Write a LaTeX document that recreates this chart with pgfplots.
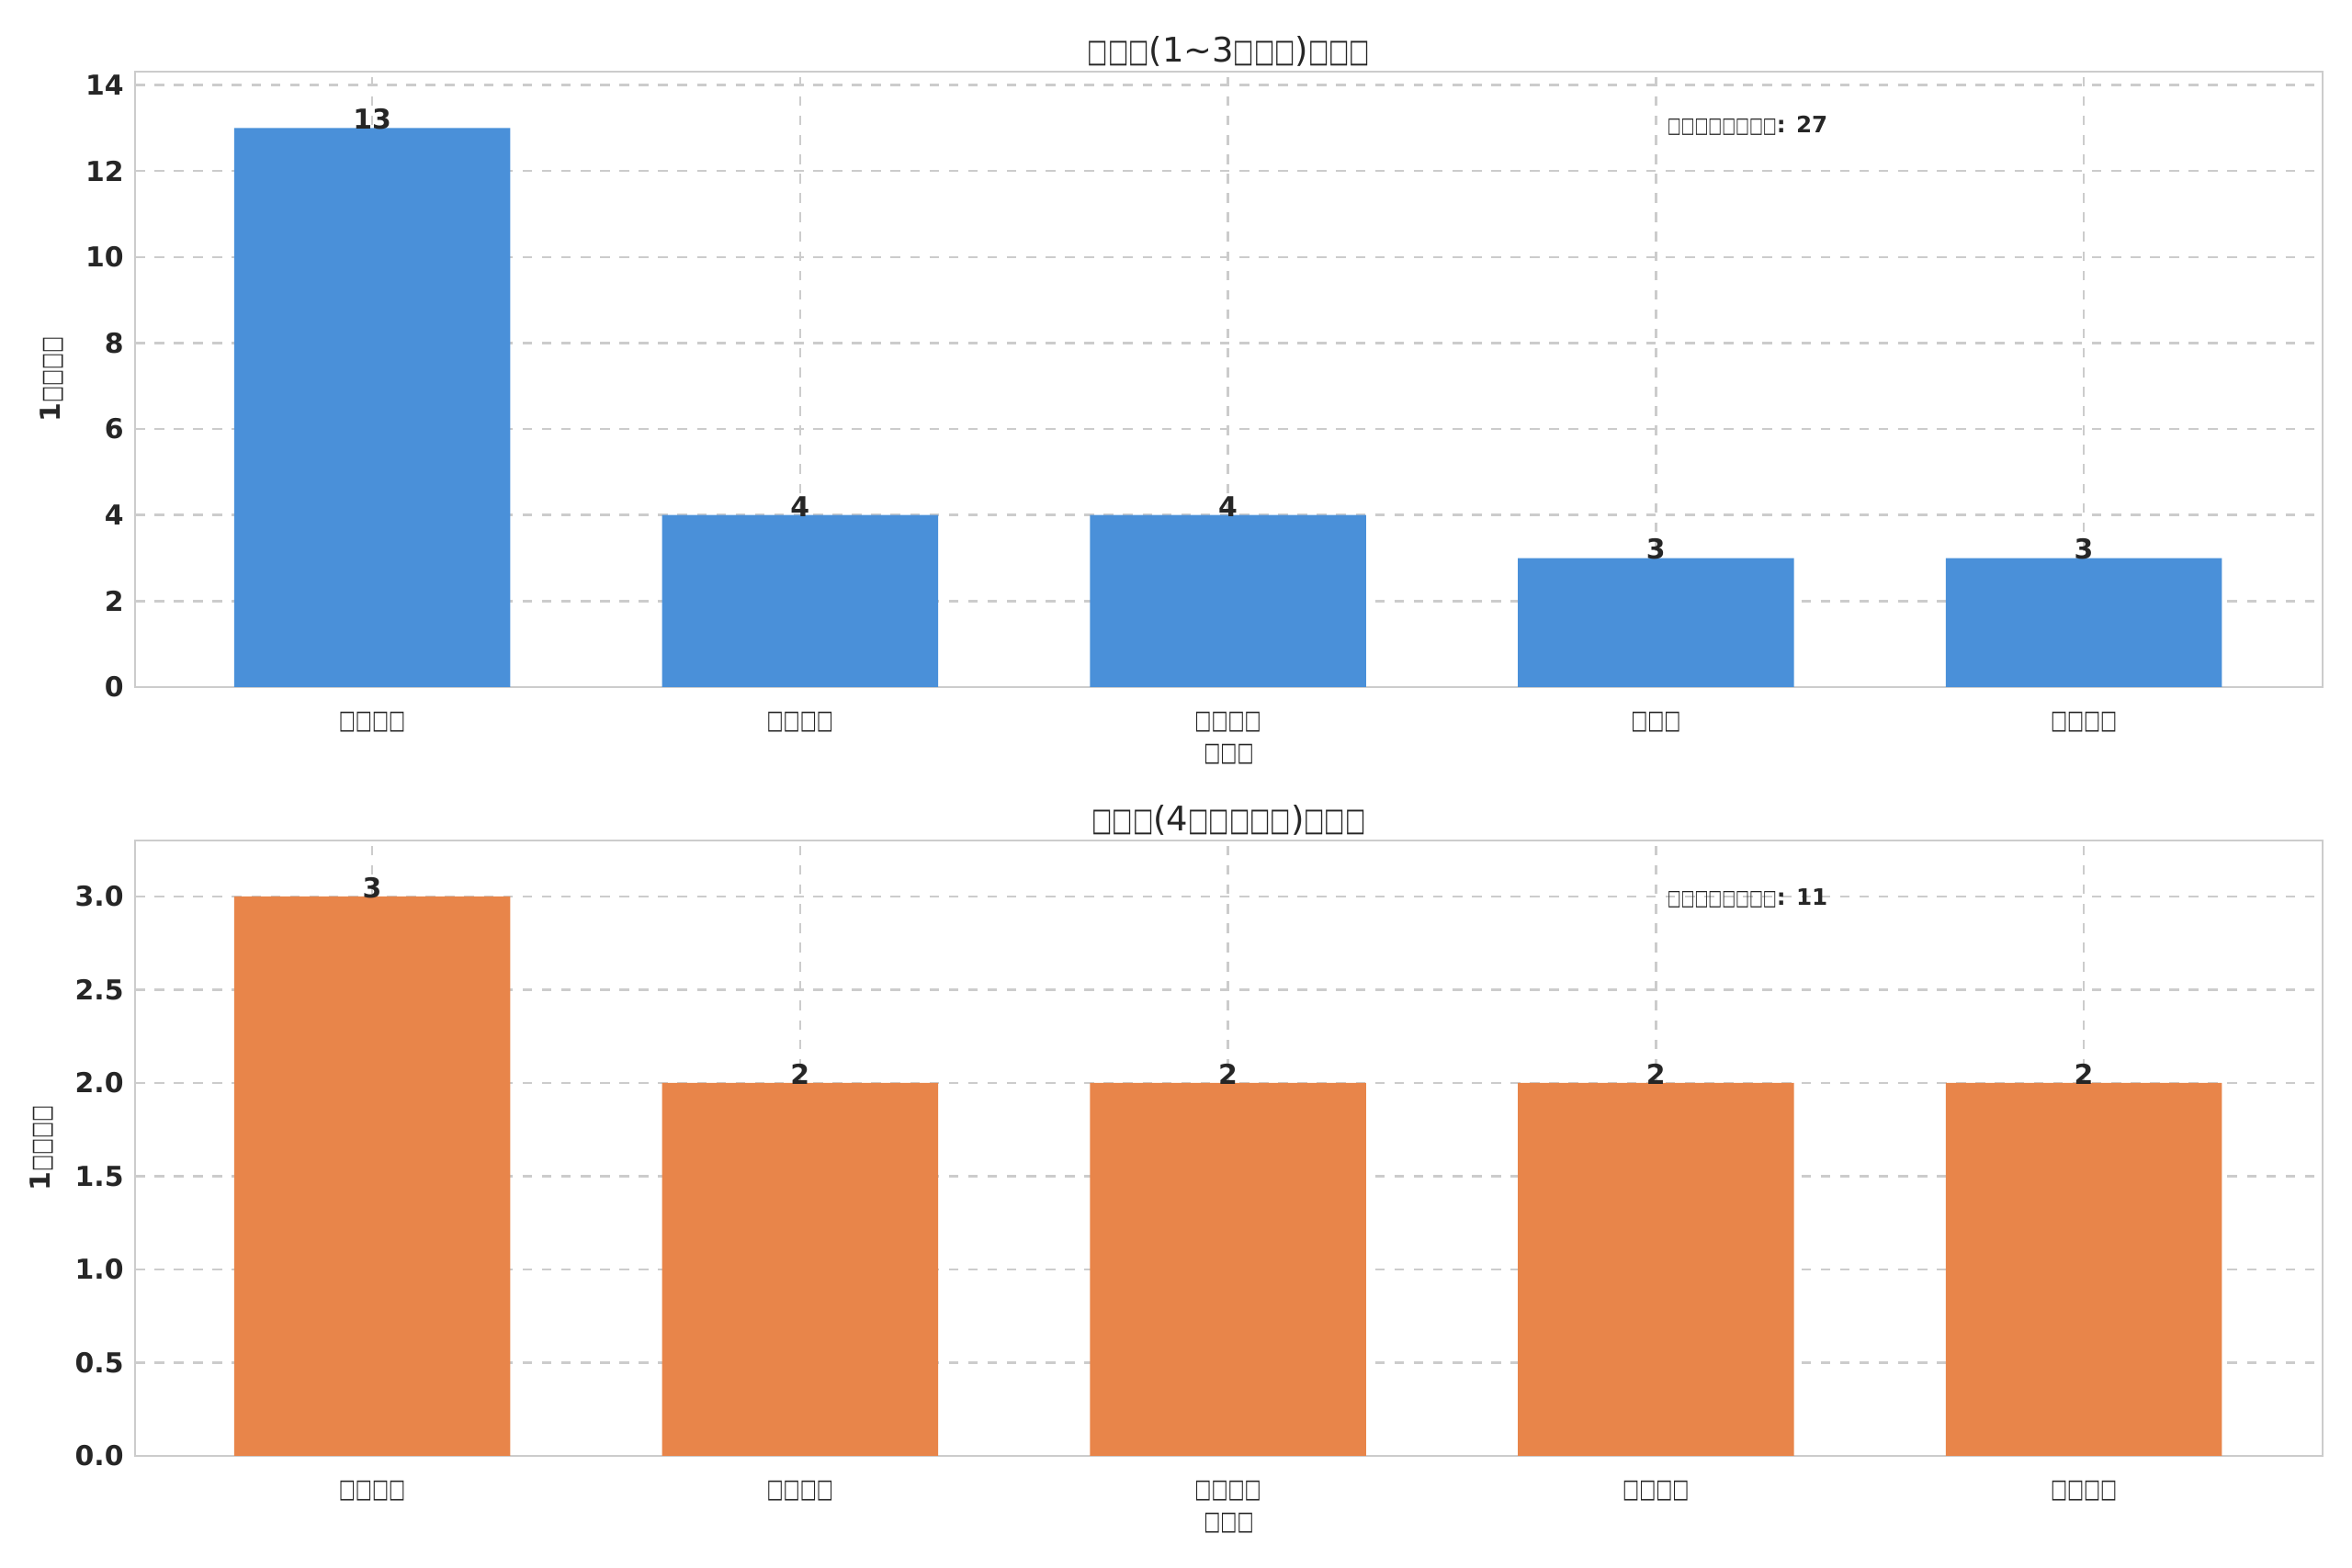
\documentclass[border=0pt]{standalone}
\usepackage{fontspec}
\setmainfont{DejaVu Sans}
\usepackage{graphicx}
\usepackage{pgfplots}
\pgfplotsset{compat=1.18}
\definecolor{tblue}{HTML}{4A90D9}
\definecolor{torange}{HTML}{E8854A}
\definecolor{tgrid}{HTML}{CCCCCC}
\definecolor{ttext}{HTML}{262626}
\newcommand{\tb}{\scalebox{0.64}[0.95]{□}}
\pgfplotsset{
  common/.style={
    scale only axis, width=23.81cm, height=6.70cm,
    xmin=-0.554, xmax=4.558, ymin=0,
    xtick={0,1,2,3,4},
    axis line style={tgrid, line width=0.8pt},
    grid=both, major grid style={tgrid, dashed, line width=0.7pt},
    tick style={draw=none},
    ticklabel style={font=\fontsize{8.5}{10}\selectfont\bfseries, text=ttext},
    xticklabel style={font=\fontsize{8.5}{10}\selectfont},
    /pgf/number format/assume math mode=true,
    xlabel style={font=\fontsize{8.5}{10}\selectfont, text=ttext, yshift=3pt},
    ylabel style={font=\fontsize{8.5}{10}\selectfont\bfseries, text=ttext},
    title style={font=\fontsize{10.5}{12}\selectfont, text=ttext, yshift=-8pt},
    ybar, bar width=0.645,
    nodes near coords,
    every node near coord/.append style={font=\fontsize{8.5}{10}\selectfont\bfseries, text=ttext, yshift=-4pt},
  }
}
\begin{document}
\begin{tikzpicture}
\path (0,0) rectangle (25.6cm,17.07cm);
\begin{axis}[common, at={(1.47cm,9.59cm)}, anchor=south west,
  ymax=14.31, ytick={0,2,...,14},
  xticklabels={\tb\tb\tb\tb,\tb\tb\tb\tb,\tb\tb\tb\tb,\tb\tb\tb,\tb\tb\tb\tb},
  xlabel={\tb\tb\tb}, ylabel={1\tb\tb\tb\tb},
  title={\tb\tb\tb(1\textasciitilde3\tb\tb\tb)\tb\tb\tb}]
\addplot[fill=tblue, draw=none] coordinates {(0,13) (1,4) (2,4) (3,3) (4,3)};
\node[anchor=west, font=\fontsize{7}{8}\selectfont\bfseries, text=ttext] at (axis cs:3.0,13.06) {\tb\tb\tb\tb\tb\tb\tb\tb: 27};
\end{axis}
\begin{axis}[common, at={(1.47cm,1.22cm)}, anchor=south west,
  ymax=3.3, ytick={0,0.5,...,3.0},
  yticklabel style={/pgf/number format/.cd, fixed, fixed zerofill, precision=1},
  xticklabels={\tb\tb\tb\tb,\tb\tb\tb\tb,\tb\tb\tb\tb,\tb\tb\tb\tb,\tb\tb\tb\tb},
  xlabel={\tb\tb\tb}, ylabel={1\tb\tb\tb\tb},
  title={\tb\tb\tb(4\tb\tb\tb\tb\tb)\tb\tb\tb}]
\addplot[fill=torange, draw=none] coordinates {(0,3) (1,2) (2,2) (3,2) (4,2)};
\node[anchor=west, font=\fontsize{7}{8}\selectfont\bfseries, text=ttext] at (axis cs:3.0,2.99) {\tb\tb\tb\tb\tb\tb\tb\tb: 11};
\end{axis}
\end{tikzpicture}
\end{document}
